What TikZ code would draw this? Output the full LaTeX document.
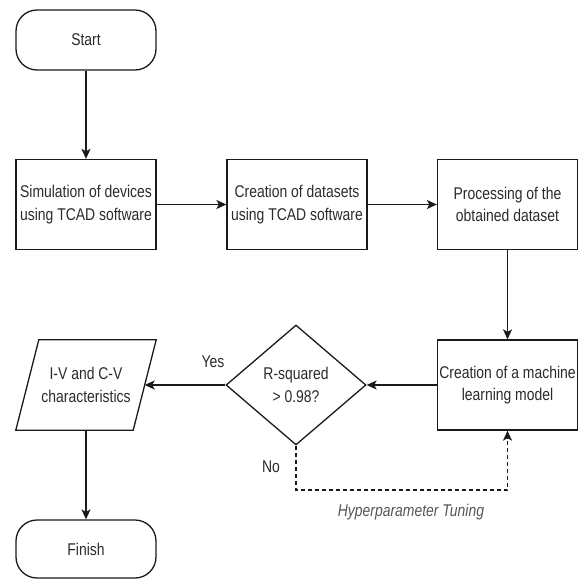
\documentclass[tikz,border=0pt]{standalone}
\usepackage{fontspec}
\setmainfont[FakeStretch=0.82]{Liberation Sans}
\usetikzlibrary{arrows.meta,shapes.geometric}
\definecolor{lc}{HTML}{1A1A1A}
\definecolor{tc}{HTML}{2B2B2B}
\definecolor{hc}{HTML}{555555}
\begin{document}
\begin{tikzpicture}[x=1pt,y=-1pt,
  base/.style={inner sep=0pt, align=center, text=tc, font=\fontsize{17}{22.7}\selectfont},
  proc/.style={base, draw=lc, line width=1.3pt, minimum width=140pt, minimum height=90pt},
  term/.style={proc, minimum height=60pt, rounded corners=21pt},
  dec/.style={base, diamond, draw=lc, line width=1.3pt, minimum width=140pt, minimum height=120pt},
  lbl/.style={base},
  arr/.style={draw=lc, line width=1.3pt, -{Stealth[length=10pt,width=9pt,inset=2.5pt]}},
  darr/.style={arr, dashed, dash pattern=on 4pt off 3pt}
]
\useasboundingbox (0,0) rectangle (579,579);
\node[term] (start) at (86,40) {Start};
\node[proc] (sim) at (86,204.5) {Simulation of devices\\using TCAD software};
\node[proc] (data) at (297,204.5) {Creation of datasets\\using TCAD software};
\node[proc] (proc) at (507.5,204.5) {Processing of the\\obtained dataset};
\node[proc] (ml) at (507.5,385) {Creation of a machine\\learning model};
\node[dec] (rsq) at (296,385) {R-squared\\> 0.98?};
\node[base, minimum width=140pt, minimum height=90pt] (iv) at (86,385) {I-V and C-V\\characteristics};
\draw[lc, line width=1.3pt] ([xshift=23pt]iv.north west) -- (iv.north east) -- ([xshift=-23pt]iv.south east) -- (iv.south west) -- cycle;
\node[term, minimum height=58pt] (fin) at (86,549) {Finish};
\coordinate (c1) at (296,490);
\coordinate (c2) at (507.5,490);
\node[lbl] (yes) at (213,362) {Yes};
\node[lbl] (no) at (271,467) {No};
\node[lbl, text=hc, font=\fontsize{17}{22.7}\selectfont\itshape] (hyp) at (411,512) {Hyperparameter Tuning};
\draw[arr] (start) -- (sim);
\draw[arr] (sim) -- (data);
\draw[arr] (data) -- (proc);
\draw[arr] (proc) -- (ml);
\draw[arr] (ml) -- (rsq);
\draw[arr] (rsq.west) -- ([xshift=-11.5pt]iv.east);
\draw[arr] (iv) -- (fin);
\draw[darr] (rsq.south) -- (c1) -- (c2) -- (ml.south);
\end{tikzpicture}
\end{document}
